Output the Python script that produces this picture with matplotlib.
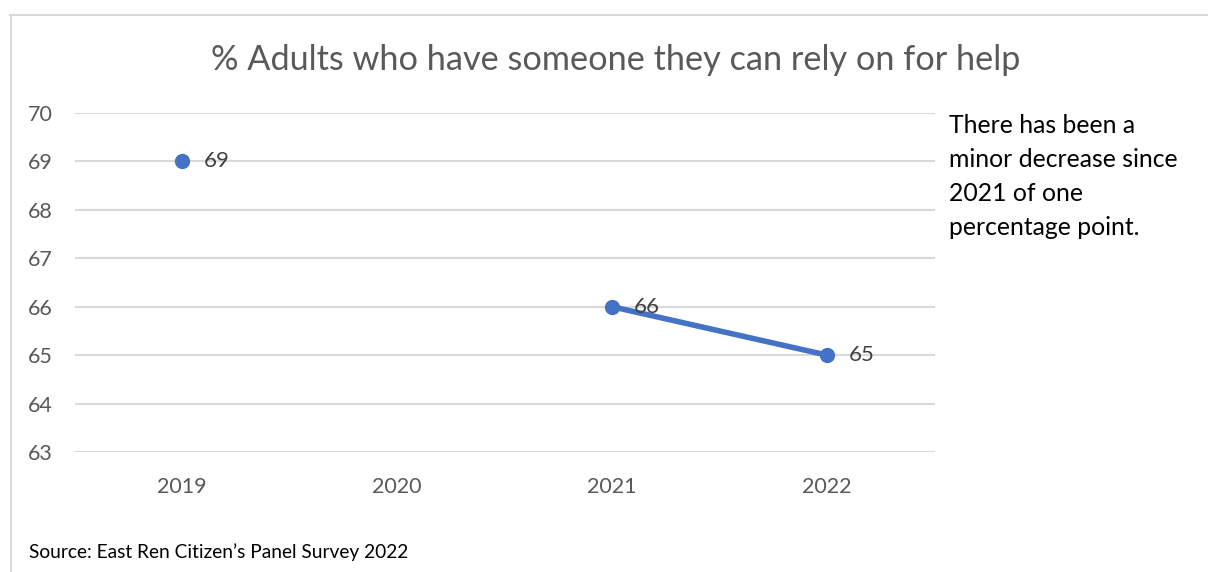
import matplotlib
matplotlib.use("Agg")
import matplotlib.pyplot as plt
from matplotlib.lines import Line2D
import numpy as np

years = ["2019", "2020", "2021", "2022"]
values = [69, np.nan, 66, 65]
yticks = [63, 64, 65, 66, 67, 68, 69, 70]
title = "% Adults who have someone they can rely on for help"
note = "There has been a\nminor decrease since\n2021 of one\npercentage point."
source = "Source: East Ren Citizen\u2019s Panel Survey 2022"

W, H = 1208, 572
fig = plt.figure(figsize=(W / 100, H / 100), dpi=100)
plt.rcParams['font.family'] = ['Lato', 'DejaVu Sans']

# frame lines (top and left only visible)
fig.add_artist(Line2D([10 / W, 1], [1 - 14.5 / H, 1 - 14.5 / H], transform=fig.transFigure,
                      color="#d9d9d9", lw=1.5))
fig.add_artist(Line2D([10.5 / W, 10.5 / W], [0, 1 - 14.5 / H], transform=fig.transFigure,
                      color="#d9d9d9", lw=1.5))

left, right, top, bottom = 74.5, 934.5, 113, 452
ax = fig.add_axes([left / W, 1 - bottom / H, (right - left) / W, (bottom - top) / H])

x = np.arange(len(years))
color = "#4472c4"
ax.plot(x, values, color=color, lw=4, marker="o", markersize=10, solid_capstyle="round", zorder=3)

for xi, v in zip(x, values):
    if not np.isnan(v):
        ax.annotate(f"{v:g}", (xi, v), xytext=(16, 0), textcoords="offset points",
                    ha="left", va="center", fontsize=16, color="#404040", zorder=4)

ax.set_xlim(-0.5, len(years) - 0.5)
ax.set_ylim(yticks[0], yticks[-1])
ax.set_yticks(yticks)
ax.set_xticks(x)
ax.set_xticklabels(years)
ax.grid(axis="y", color="#d9d9d9", lw=1.5)
ax.set_axisbelow(True)
for s in ax.spines.values():
    s.set_visible(False)
ax.tick_params(axis="both", length=0, labelsize=15.5, labelcolor="#595959")
ax.tick_params(axis="y", pad=16)
ax.tick_params(axis="x", pad=18)

fig.text(616 / W, 1 - 60 / H, title, ha="center", va="center", fontsize=24.7, color="#595959")
fig.text(949 / W, 1 - 114 / H, note, ha="left", va="top", fontsize=17.8, color="#000000",
         linespacing=1.58)
fig.text(29 / W, 1 - 552 / H, source, ha="left", va="center", fontsize=13.8, color="#000000")

fig.savefig("out.png", dpi=100, facecolor="white")
